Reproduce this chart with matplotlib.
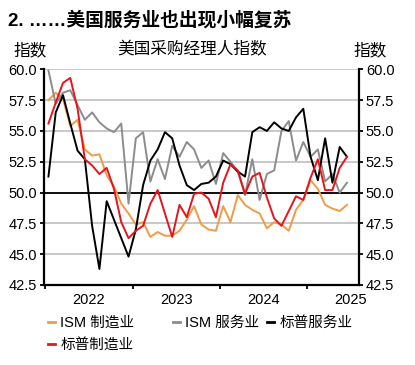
import matplotlib
matplotlib.use("Agg")
import matplotlib.pyplot as plt
import numpy as np

plt.rcParams['font.family'] = ['Liberation Sans', 'Noto Sans CJK SC']

# monthly values, Jan 2022 .. Jun 2025
ism_mfg = [57.5, 58.1, 57.6, 55.4, 55.9, 53.5, 53.0, 53.1, 51.4, 50.5, 49.1, 48.3,
           47.4, 47.6, 46.4, 46.8, 46.5, 46.5, 46.9, 47.8, 48.9, 47.4, 47.0, 46.9,
           48.9, 47.6, 49.8, 49.0, 48.6, 48.3, 47.1, 47.6, 47.4, 46.9, 48.6, 49.4,
           51.0, 50.3, 49.0, 48.7, 48.5, 49.0]
ism_svc = [59.9, 57.2, 58.1, 58.3, 57.1, 55.9, 56.5, 55.7, 55.2, 54.9, 55.6, 49.1,
           54.4, 54.9, 50.9, 52.7, 51.1, 53.8, 52.9, 54.1, 53.5, 52.0, 52.6, 50.7,
           53.2, 52.5, 51.7, 49.8, 52.7, 49.4, 51.5, 51.8, 55.0, 55.8, 52.6, 54.1,
           52.9, 53.5, 50.9, 51.5, 50.0, 50.8]
sp_svc = [51.3, 56.5, 57.9, 55.6, 53.4, 52.7, 47.3, 43.8, 49.3, 47.8, 46.3, 44.8,
          47.0, 50.6, 52.6, 53.5, 54.9, 54.4, 52.2, 50.6, 50.2, 50.7, 50.8, 51.3,
          52.6, 52.3, 51.7, 51.3, 54.9, 55.3, 55.0, 55.7, 55.2, 55.0, 56.1, 56.8,
          52.9, 51.0, 54.4, 50.8, 53.7, 52.9]
sp_mfg = [55.6, 57.3, 58.9, 59.3, 56.8, 52.7, 52.2, 51.5, 52.0, 50.3, 47.6, 46.3,
          46.9, 47.3, 49.1, 50.2, 48.3, 46.4, 49.0, 48.0, 49.9, 50.0, 49.5, 48.0,
          50.8, 52.3, 51.8, 49.9, 51.3, 51.6, 49.6, 47.9, 47.3, 48.5, 49.7, 49.4,
          51.2, 52.7, 50.2, 50.2, 52.0, 52.9]
years = ['2022', '2023', '2024', '2025']

labels = ['ISM 制造业', 'ISM 服务业', '标普服务业', '标普制造业']
colors = ['#F29A45', '#8C8C8C', '#000000', '#E8141C']

fig = plt.figure(figsize=(4.15, 3.65), dpi=100)
ax = fig.add_axes([44/415, 1-285/365, (359-44)/415, (285-69.3)/365])

x = np.arange(len(ism_mfg)) + 0.45
lines = []
for s, lab, c in zip([ism_mfg, ism_svc, sp_svc, sp_mfg], labels, colors):
    l, = ax.plot(x, s, color=c, lw=1.4, label=lab, zorder=3)
    lines.append(l)

ax.set_ylim(42.5, 60.0)
ax.set_xlim(-0.16, 43.1)
yt = np.arange(42.5, 60.01, 2.5)
ax.set_yticks(yt)
ax.set_yticklabels(['%.1f' % v for v in yt])
ax.yaxis.grid(True, color='#c4c4c4', lw=1.3, zorder=0)
ax.set_axisbelow(True)
ax.axhline(50, color='black', lw=1.3, zorder=2)

ax.set_xticks([0, 12, 24, 36])
ax.set_xticklabels([])
ax.set_xticks([6, 18, 30, 42], minor=True)
ax.set_xticklabels(years, minor=True)
ax.tick_params(axis='x', which='minor', length=0, labelsize=10.5, pad=6)
ax.tick_params(axis='x', which='major', length=3, width=1.3, direction='out')
ax.tick_params(axis='y', labelsize=10.5, length=3, width=1.3, direction='out',
               left=True, right=True, labelleft=True, labelright=True, pad=2)

for side in ['left', 'right', 'bottom']:
    ax.spines[side].set_linewidth(1.6)
    ax.spines[side].set_color('black')
ax.spines['top'].set_visible(False)

fig.text(8/415, 1-20/365, '2. ……美国服务业也出现小幅复苏', fontsize=13.5,
         fontweight='bold', va='center', ha='left')
fig.text(30/415, 1-50/365, '指数', fontsize=12, va='center', ha='center')
fig.text(370/415, 1-50/365, '指数', fontsize=12, va='center', ha='center')
fig.text(192/415, 1-49/365, '美国采购经理人指数', fontsize=12, va='center', ha='center')

pos = [(48, 323), (173, 323), (267, 323), (48, 345)]
for l, (px, py) in zip(lines, pos):
    h = plt.Line2D([], [], color=l.get_color(), lw=2)
    fig.legend([h], [l.get_label()], loc='center left',
               bbox_to_anchor=(px/415, 1-py/365), frameon=False,
               borderpad=0, borderaxespad=0, handlelength=0.45,
               handletextpad=0.4, fontsize=10.5)

fig.savefig('out.png', dpi=100)
